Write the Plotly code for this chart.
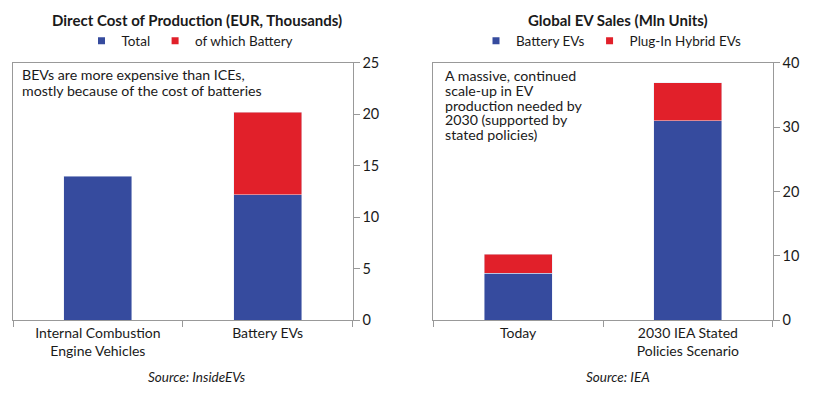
import plotly.graph_objects as go

# ---- Data ----
cost_categories = ["Internal Combustion<br>Engine Vehicles", "Battery EVs"]
cost_total = [14.0, 12.2]
cost_battery = [None, 8.0]

sales_categories = ["Today", "2030 IEA Stated<br>Policies Scenario"]
sales_bev = [7.3, 31.0]
sales_phev = [2.95, 5.9]

note_left = ["BEVs are more expensive than ICEs,", "mostly because of the cost of batteries"]
note_right = ["A massive, continued", "scale-up in EV", "production needed by",
              "2030 (supported by", "stated policies)"]

BLUE = "#364B9E"
RED = "#E1202A"
GRAY = "#999999"
TXT = "#1a1a1a"
FONT = "Lato"

W, H = 840, 394
def px(x): return x / W
def py(y): return 1 - y / H

fig = go.Figure()

# Left chart bars
fig.add_trace(go.Bar(x=cost_categories, y=cost_total, marker_color=BLUE,
                     xaxis="x", yaxis="y", showlegend=False, name="Total"))
fig.add_trace(go.Bar(x=cost_categories, y=cost_battery, marker_color=RED,
                     xaxis="x", yaxis="y", showlegend=False, name="of which Battery"))
# Right chart bars
fig.add_trace(go.Bar(x=sales_categories, y=sales_bev, marker_color=BLUE,
                     xaxis="x2", yaxis="y2", showlegend=False, name="Battery EVs"))
fig.add_trace(go.Bar(x=sales_categories, y=sales_phev, marker_color=RED,
                     xaxis="x2", yaxis="y2", showlegend=False, name="Plug-In Hybrid EVs"))

# Legend entries
for name, col, leg, ax, ay in [("Total", BLUE, "legend", "x", "y"),
                               ("of which Battery", RED, "legend", "x", "y"),
                               ("Battery EVs", BLUE, "legend2", "x2", "y2"),
                               ("Plug-In Hybrid EVs", RED, "legend2", "x2", "y2")]:
    fig.add_trace(go.Scatter(x=[None], y=[None], mode="markers", name=name,
                             marker=dict(symbol="square", size=7, color=col),
                             legend=leg, xaxis=ax, yaxis=ay, showlegend=True))

ydom = [py(320.3), py(62.7)]
axis_common = dict(showline=True, linecolor=GRAY, linewidth=1, mirror=True,
                   showgrid=False, zeroline=False, automargin=False)

fig.update_layout(
    width=W, height=H,
    margin=dict(l=0, r=0, t=0, b=0, autoexpand=False),
    paper_bgcolor="white", plot_bgcolor="white",
    barmode="stack", bargap=0.6,
    font=dict(family=FONT, size=14, color=TXT),
    xaxis=dict(domain=[px(13), px(352.5)], anchor="y", ticks="outside", tickson="boundaries",
               ticklen=6, tickcolor=GRAY, tickfont=dict(size=14), **axis_common),
    yaxis=dict(domain=ydom, anchor="x", side="right", range=[0, 25], dtick=5,
               ticks="outside", ticklen=6, tickcolor=GRAY, tickfont=dict(size=14.5), **axis_common),
    xaxis2=dict(domain=[px(433.3), px(772.7)], anchor="y2", ticks="outside", tickson="boundaries",
                ticklen=6, tickcolor=GRAY, tickfont=dict(size=14), **axis_common),
    yaxis2=dict(domain=ydom, anchor="x2", side="right", range=[0, 40], dtick=10,
                ticks="outside", ticklen=6, tickcolor=GRAY, tickfont=dict(size=14.5), **axis_common),
    legend=dict(orientation="h", x=px(190), xanchor="center", y=py(41), yanchor="middle",
                font=dict(size=13.5), itemwidth=30, traceorder="normal", bgcolor="rgba(0,0,0,0)"),
    legend2=dict(orientation="h", x=px(611), xanchor="center", y=py(41), yanchor="middle",
                 font=dict(size=13.5), itemwidth=30, traceorder="normal", bgcolor="rgba(0,0,0,0)"),
)

annotations = [
    dict(text="<b>Direct Cost of Production (EUR, Thousands)</b>", x=px(197), y=py(20),
         font=dict(size=15)),
    dict(text="<b>Global EV Sales (Mln Units)</b>", x=px(618), y=py(20), font=dict(size=15)),
    dict(text="<i>Source: InsideEVs</i>", x=px(197), y=py(377), font=dict(size=13.5)),
    dict(text="<i>Source: IEA</i>", x=px(618), y=py(377), font=dict(size=13.5)),
]
for i, line in enumerate(note_left):
    annotations.append(dict(text=line, x=px(20), y=py(75 + 15 * i), xanchor="left",
                            font=dict(size=14.2)))
for i, line in enumerate(note_right):
    annotations.append(dict(text=line, x=px(443), y=py(75.5 + 14.8 * i), xanchor="left",
                            font=dict(size=14.2)))
for a in annotations:
    a.setdefault("xanchor", "center")
    a.setdefault("yanchor", "middle")
    fig.add_annotation(xref="paper", yref="paper", showarrow=False, **a)

fig.write_html("out.html", config={"displayModeBar": False},
               post_script="document.body.style.margin='0';document.body.style.overflow='hidden';")
